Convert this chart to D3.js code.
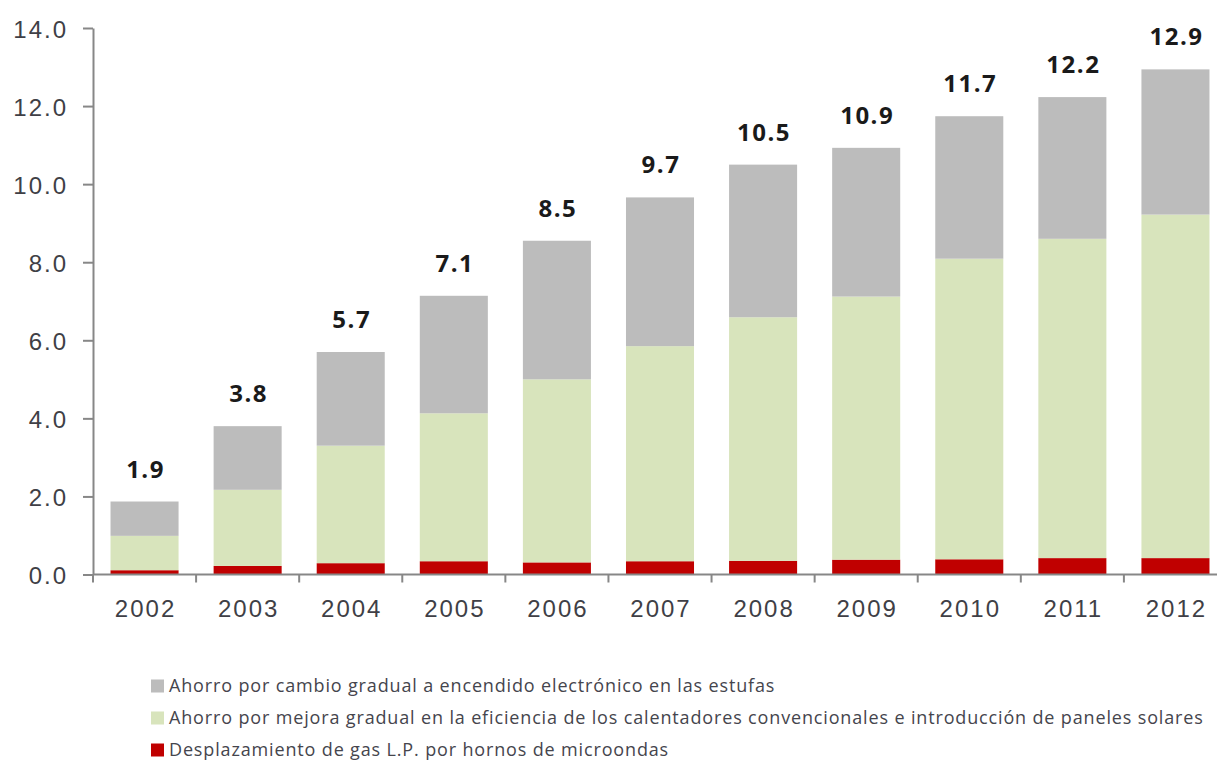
<!DOCTYPE html>
<html>
<head>
<meta charset="utf-8">
<script src="https://cdn.jsdelivr.net/npm/d3@7"></script>
<style>
  body { margin: 0; background: #fff; overflow: hidden; }
  svg { display: block; font-family: "Open Sans", sans-serif; }
  .axis path, .axis line { stroke: #878787; stroke-width: 2; }
  .axis text { fill: #3f3f46; font-size: 24px; letter-spacing: 2px; }
  .total { fill: #1a1a1a; font-size: 24px; font-weight: 700; letter-spacing: 1.5px; }
  .legend text { fill: #45454d; font-size: 18px; letter-spacing: 0.85px; }
</style>
</head>
<body>
<div class="viz"></div>
<script>
var years = ['2002', '2003', '2004', '2005', '2006', '2007', '2008', '2009', '2010', '2011', '2012'];

// desplazamiento de gas L.P. por hornos de microondas
var microondas = [0.11, 0.22, 0.29, 0.34, 0.31, 0.34, 0.35, 0.38, 0.39, 0.42, 0.42];
// mejora de calentadores y paneles solares
var calentadores = [0.88, 1.95, 3.01, 3.79, 4.69, 5.51, 6.24, 6.74, 7.70, 8.18, 8.80];
// encendido electronico en estufas
var estufas = [0.88, 1.63, 2.40, 3.01, 3.55, 3.81, 3.91, 3.81, 3.65, 3.63, 3.72];

var totals = ['1.9', '3.8', '5.7', '7.1', '8.5', '9.7', '10.5', '10.9', '11.7', '12.2', '12.9'];
var yTicks = [0, 2, 4, 6, 8, 10, 12, 14];

var keys = ['microondas', 'calentadores', 'estufas'];
var legendKeys = ['estufas', 'calentadores', 'microondas'];
var legendLabels = {
    estufas: 'Ahorro por cambio gradual a encendido electrónico en las estufas',
    calentadores: 'Ahorro por mejora gradual en la eficiencia de los calentadores convencionales e introducción de paneles solares',
    microondas: 'Desplazamiento de gas L.P. por hornos de microondas'
};

var width = 1217, height = 761;

var rows = years.map(function (y, i) {
    return { year: y, microondas: microondas[i], calentadores: calentadores[i], estufas: estufas[i], total: totals[i] };
});

var color = d3.scaleOrdinal()
    .domain(keys)
    .range(['#c00000', '#d8e4bc', '#bcbcbc']);

var x = d3.scaleBand()
    .domain(years)
    .range([93, 1227])
    .paddingInner(0.34)
    .paddingOuter(0.17);

var y = d3.scaleLinear()
    .domain([0, 14])
    .range([574.5, 28]);

var svg = d3.select('.viz').append('svg')
    .attr('width', width)
    .attr('height', height);

var series = d3.stack().keys(keys)(rows);

svg.append('g').selectAll('g')
    .data(series)
    .enter().append('g')
    .attr('fill', function (d) { return color(d.key); })
    .selectAll('rect')
    .data(function (d) { return d; })
    .enter().append('rect')
    .attr('x', function (d) { return x(d.data.year); })
    .attr('width', x.bandwidth())
    .attr('y', function (d) { return y(d[1]); })
    .attr('height', function (d) { return y(d[0]) - y(d[1]); });

// value labels on top of the bars
var topSeries = series[series.length - 1];
svg.append('g').selectAll('text')
    .data(topSeries)
    .enter().append('text')
    .attr('class', 'total')
    .attr('text-anchor', 'middle')
    .attr('x', function (d) { return x(d.data.year) + x.bandwidth() / 2 + 1; })
    .attr('y', function (d) { return y(d[1]) - 24; })
    .text(function (d) { return d.data.total; });

// y axis
var yAxis = svg.append('g')
    .attr('class', 'axis')
    .attr('transform', 'translate(93,0)')
    .call(d3.axisLeft(y)
        .tickValues(yTicks)
        .tickSize(10)
        .tickSizeOuter(0)
        .tickPadding(15)
        .tickFormat(d3.format('.1f')));
yAxis.selectAll('text').attr('dy', '0.38em');

// x axis, ticks sit between the bars
var xAxis = svg.append('g')
    .attr('class', 'axis')
    .attr('transform', 'translate(0,' + y(0) + ')')
    .call(d3.axisBottom(x).tickSize(0).tickSizeOuter(0).tickPadding(25));
xAxis.select('.domain').attr('d', 'M' + 93 + ',0H' + width);
xAxis.selectAll('text').attr('dy', '0.71em').attr('dx', 1);

var gap = (x.step() - x.bandwidth()) / 2;
xAxis.selectAll('.sep')
    .data(years)
    .enter().append('line')
    .attr('class', 'sep')
    .attr('x1', function (d) { return x(d) - gap; })
    .attr('x2', function (d) { return x(d) - gap; })
    .attr('y1', 0)
    .attr('y2', 8);

// legend
var legend = svg.append('g')
    .attr('class', 'legend')
    .selectAll('g')
    .data(legendKeys)
    .enter().append('g')
    .attr('transform', function (d, i) { return 'translate(151,' + (686 + i * 32) + ')'; });

legend.append('rect')
    .attr('y', -6.5)
    .attr('width', 13)
    .attr('height', 13)
    .attr('fill', function (d) { return color(d); });

legend.append('text')
    .attr('x', 18)
    .attr('dy', '0.36em')
    .text(function (d) { return legendLabels[d]; });
</script>
</body>
</html>
